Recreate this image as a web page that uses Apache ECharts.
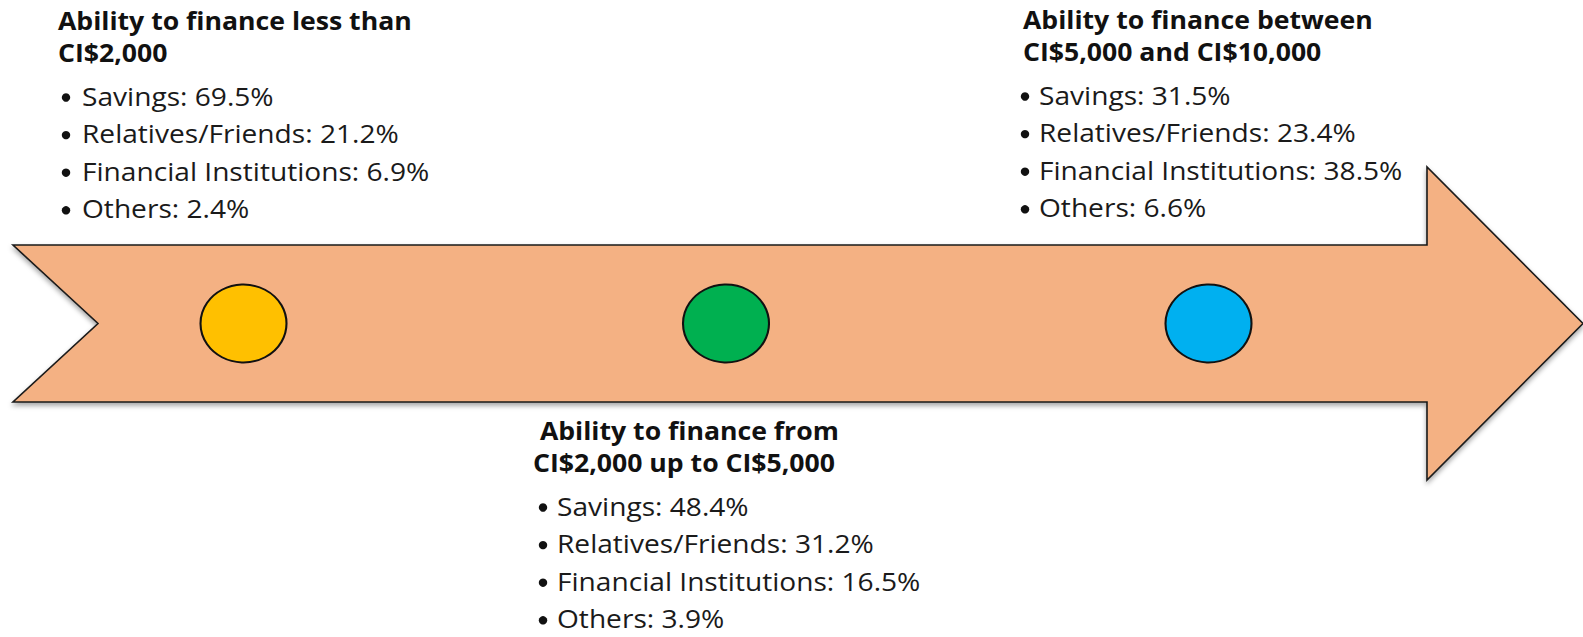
<!DOCTYPE html>
<html>
<head>
<meta charset="utf-8">
<title>Ability to finance</title>
<script src="https://cdn.jsdelivr.net/npm/echarts@6/dist/echarts.min.js"></script>
<style>
  html, body { margin: 0; padding: 0; background: #fff; }
  #chart { width: 1583px; height: 637px; }
</style>
</head>
<body>
<div id="chart"></div>
<script>
// data
const stageTitles = [
  ["Ability to finance less than", "CI$2,000"],
  [" Ability to finance from", "CI$2,000 up to CI$5,000"],
  ["Ability to finance between", "CI$5,000 and CI$10,000"],
];
const sources = ["Savings", "Relatives/Friends", "Financial Institutions", "Others"];
const savings = [69.5, 48.4, 31.5];
const relatives = [21.2, 31.2, 23.4];
const financial = [6.9, 16.5, 38.5];
const others = [2.4, 3.9, 6.6];
const stageColors = ["#FFC000", "#00B050", "#00B0F0"];

// layout (axis units = pixels of the 1583x637 picture)
const W = 1583, H = 637;
const MID_Y = 323.5;
const STAGE_X = [243.5, 726, 1208.5];
const ARROW = { left: 13, notch: 98, neck: 1427, tip: 1583, bodyTop: 245, bodyBottom: 402, headTop: 167, headBottom: 480 };
// [title left, first title baseline, bullet dot offset, text offset]
const BLOCK = [
  [58, 30, 4, 24],
  [533, 440, 6, 24],
  [1023, 29, -2, 16],
];
const FONT = "'Open Sans', 'Noto Sans', sans-serif";
const TITLE_SIZE = 25;
const ITEM_SIZE = 25;
const ITEM_STEP = 37.6;
// the source picture is stretched sideways, so is its lettering
const TITLE_STRETCH = 1.065;
const ITEM_STRETCH = 1.125;

const shares = [savings, relatives, financial, others];

function arrowItem(params, api) {
  const pts = [
    [ARROW.left, ARROW.bodyTop],
    [ARROW.neck, ARROW.bodyTop],
    [ARROW.neck, ARROW.headTop],
    [ARROW.tip, MID_Y],
    [ARROW.neck, ARROW.headBottom],
    [ARROW.neck, ARROW.bodyBottom],
    [ARROW.left, ARROW.bodyBottom],
    [ARROW.notch, MID_Y],
  ].map(p => api.coord(p));
  return {
    type: "polygon",
    shape: { points: pts },
    style: {
      fill: "#F4B183",
      stroke: "#1a1a1a",
      lineWidth: 1.6,
      shadowBlur: 5,
      shadowOffsetY: 3,
      shadowColor: "rgba(0,0,0,0.35)",
    },
  };
}

// text is placed on its baseline: 'middle' sits ~0.39em above it
function blockItem(params, api) {
  const i = api.value(0);
  const [bx, by, dotDx, textDx] = BLOCK[i];
  const children = [];
  stageTitles[i].forEach((line, k) => {
    const p = api.coord([bx, by + k * 32]);
    children.push({
      type: "text",
      x: p[0], y: p[1] - 0.39 * TITLE_SIZE,
      scaleX: TITLE_STRETCH,
      style: {
        text: line, x: 0, y: 0,
        font: `bold ${TITLE_SIZE}px ${FONT}`,
        fill: "#111", verticalAlign: "middle", align: "left",
      },
    });
  });
  sources.forEach((name, k) => {
    const p = api.coord([bx, by + 76 + k * ITEM_STEP]);
    children.push({
      type: "circle",
      shape: { cx: p[0] + dotDx + 4, cy: p[1] - 8.5, r: 4.2 },
      style: { fill: "#111" },
    });
    children.push({
      type: "text",
      x: p[0] + textDx, y: p[1] - 0.39 * ITEM_SIZE,
      scaleX: ITEM_STRETCH,
      style: {
        text: `${name}: ${shares[k][i].toFixed(1)}%`,
        x: 0, y: 0,
        font: `${ITEM_SIZE}px ${FONT}`,
        fill: "#1a1a1a", verticalAlign: "middle", align: "left",
      },
    });
  });
  return { type: "group", children };
}

const chart = echarts.init(document.getElementById("chart"), null, { renderer: "svg" });
chart.setOption({
  animation: false,
  backgroundColor: "#fff",
  grid: { left: 0, right: 0, top: 0, bottom: 0 },
  xAxis: { type: "value", min: 0, max: W, show: false },
  yAxis: { type: "value", min: 0, max: H, inverse: true, show: false },
  series: [
    {
      type: "custom",
      name: "arrow",
      clip: false,
      renderItem: arrowItem,
      data: [[0]],
      z: 1,
    },
    {
      type: "scatter",
      name: "stages",
      symbol: "circle",
      symbolSize: [86, 78],
      data: STAGE_X.map((x, i) => ({ value: [x, MID_Y], itemStyle: { color: stageColors[i] } })),
      itemStyle: { borderColor: "#111", borderWidth: 2, opacity: 1 },
      z: 2,
    },
    {
      type: "custom",
      name: "labels",
      clip: false,
      renderItem: blockItem,
      data: stageTitles.map((t, i) => [i]),
      z: 3,
    },
  ],
});
</script>
</body>
</html>
